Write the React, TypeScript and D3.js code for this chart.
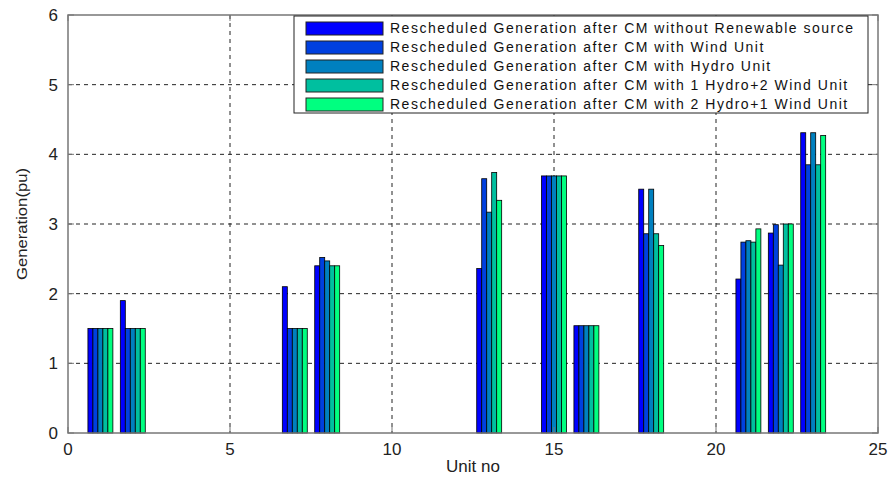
import React from "react";
import * as d3 from "d3";

const units = [1, 2, 7, 8, 13, 15, 16, 18, 21, 22, 23];
const seriesNames = [
  "Rescheduled Generation after CM without Renewable source",
  "Rescheduled Generation after CM with Wind Unit",
  "Rescheduled Generation after CM with Hydro Unit",
  "Rescheduled Generation after CM with 1 Hydro+2 Wind Unit",
  "Rescheduled Generation after CM with 2 Hydro+1 Wind Unit",
];
const withoutRenewable = [1.5, 1.9, 2.1, 2.4, 2.36, 3.69, 1.54, 3.5, 2.21, 2.87, 4.31];
const withWind = [1.5, 1.5, 1.5, 2.52, 3.65, 3.69, 1.54, 2.86, 2.74, 2.99, 3.85];
const withHydro = [1.5, 1.5, 1.5, 2.47, 3.17, 3.69, 1.54, 3.5, 2.76, 2.41, 4.31];
const hydro1Wind2 = [1.5, 1.5, 1.5, 2.4, 3.74, 3.69, 1.54, 2.86, 2.74, 3.0, 3.85];
const hydro2Wind1 = [1.5, 1.5, 1.5, 2.4, 3.34, 3.69, 1.54, 2.69, 2.93, 3.0, 4.27];
const seriesValues = [withoutRenewable, withWind, withHydro, hydro1Wind2, hydro2Wind1];
const colors = ["#0000ff", "#0040df", "#0080bf", "#00bf9f", "#00ff80"];
const xTicks = [0, 5, 10, 15, 20, 25];
const yTicks = [0, 1, 2, 3, 4, 5, 6];

export default function App() {
  const W = 888, H = 481;
  const left = 68, right = 878, top = 15, bottom = 433;
  const x = d3.scaleLinear().domain([0, 25]).range([left, right]);
  const y = d3.scaleLinear().domain([0, 6]).range([bottom, top]);
  const groupW = 0.77;
  const inner = d3.scaleBand<number>().domain([0, 1, 2, 3, 4]).range([-groupW / 2, groupW / 2]).padding(0);
  const font = "Liberation Sans, Arial, sans-serif";
  const axisColor = "#777";

  return (
    <svg width={W} height={H} style={{ position: "absolute", left: 0, top: 0, background: "#fff" }}>
      <rect x={0} y={0} width={W} height={H} fill="#fff" />
      {xTicks.filter(t => t > 0 && t < 25).map(t => (
        <line key={"gx" + t} x1={x(t)} x2={x(t)} y1={top} y2={bottom} stroke="#222" strokeDasharray="4,4" strokeWidth={1} />
      ))}
      {yTicks.filter(t => t > 0 && t < 6).map(t => (
        <line key={"gy" + t} x1={left} x2={right} y1={y(t)} y2={y(t)} stroke="#222" strokeDasharray="4,4" strokeWidth={1} />
      ))}
      {seriesValues.map((vals, si) =>
        vals.map((v, i) => {
          const x0 = x(units[i] + (inner(si) as number));
          const x1 = x(units[i] + (inner(si) as number) + inner.bandwidth());
          return (
            <rect key={si + "-" + i} x={x0} y={y(v)} width={x1 - x0} height={y(0) - y(v)}
              fill={colors[si]} stroke="#000" strokeWidth={0.8} />
          );
        })
      )}
      <rect x={left} y={top} width={right - left} height={bottom - top} fill="none" stroke={axisColor} strokeWidth={1.5} />
      {xTicks.map(t => (
        <g key={"xt" + t}>
          <line x1={x(t)} x2={x(t)} y1={bottom} y2={bottom - 6} stroke={axisColor} />
          <line x1={x(t)} x2={x(t)} y1={top} y2={top + 6} stroke={axisColor} />
          <text x={x(t)} y={bottom + 22} textAnchor="middle" fontFamily={font} fontSize={17} fill="#222">{t}</text>
        </g>
      ))}
      {yTicks.map(t => (
        <g key={"yt" + t}>
          <line x1={left} x2={left + 6} y1={y(t)} y2={y(t)} stroke={axisColor} />
          <line x1={right} x2={right - 6} y1={y(t)} y2={y(t)} stroke={axisColor} />
          <text x={left - 10} y={y(t) + 6} textAnchor="end" fontFamily={font} fontSize={17} fill="#222">{t}</text>
        </g>
      ))}
      <text x={(left + right) / 2} y={472} textAnchor="middle" fontFamily={font} fontSize={17} fill="#222">Unit no</text>
      <text transform={`translate(27,224) rotate(-90)`} textAnchor="middle"
        fontFamily={font} fontSize={15} fill="#222" textLength={112} lengthAdjust="spacingAndGlyphs">Generation(pu)</text>
      <rect x={294} y={16} width={574} height={97} fill="#fff" stroke="#222" strokeWidth={1} />
      {seriesNames.map((n, i) => {
        const cy = 28 + i * 19;
        return (
          <g key={"lg" + i}>
            <rect x={306} y={cy - 6} width={77} height={13} fill={colors[i]} stroke="#222" strokeWidth={1} />
            <text x={390} y={cy + 5} fontFamily={font} fontSize={14} fill="#111" letterSpacing={1.5}>{n}</text>
          </g>
        );
      })}
    </svg>
  );
}
